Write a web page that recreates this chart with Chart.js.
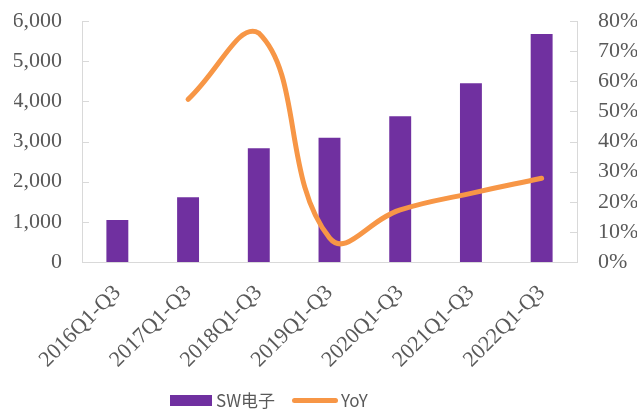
<!DOCTYPE html>
<html>
<head>
<meta charset="utf-8">
<script src="https://cdn.jsdelivr.net/npm/chart.js@4/dist/chart.umd.min.js"></script>
<style>
body { margin: 0; background: #fff; }
#wrap { position: relative; width: 641px; height: 410px; }
#legend { position: absolute; left: 0; top: 390px; width: 641px; height: 20px;
  font-family: "Noto Sans CJK SC", sans-serif; font-size: 17px; color: #595959; }
.item { position: absolute; top: 0; line-height: 20px; }
.swatch { position: absolute; }
</style>
</head>
<body>
<div id="wrap">
  <canvas id="chart" width="641" height="410"></canvas>
  <div id="legend">
    <span class="swatch" style="left:170px;top:5px;width:42px;height:11px;background:#7030A0"></span>
    <span class="item" style="left:216px">SW电子</span>
    <span class="swatch" style="left:292px;top:8px;width:46px;height:5px;border-radius:3px;background:#F79646"></span>
    <span class="item" style="left:341px">YoY</span>
  </div>
</div>
<script>
/* data */
var categories = ['2016Q1-Q3', '2017Q1-Q3', '2018Q1-Q3', '2019Q1-Q3', '2020Q1-Q3', '2021Q1-Q3', '2022Q1-Q3'];
var revenue = [1046, 1611, 2830, 3095, 3627, 4449, 5676];
var yoy = [null, 54.0, 76.0, 8.0, 17.3, 22.8, 27.8];

var AXIS_GRAY = '#D9D9D9';
var TEXT_GRAY = '#595959';

/* excel style tick marks pointing into the plot */
var innerTicks = {
    id: 'innerTicks',
    afterDraw: function (chart) {
        var ctx = chart.ctx;
        ctx.save();
        ctx.strokeStyle = AXIS_GRAY;
        ctx.lineWidth = 1;
        ['y', 'y1'].forEach(function (id) {
            var scale = chart.scales[id];
            var x0 = id == 'y' ? scale.right : scale.left;
            var dir = id == 'y' ? 1 : -1;
            scale.ticks.forEach(function (t) {
                var py = Math.round(scale.getPixelForValue(t.value)) + 0.5;
                ctx.beginPath();
                ctx.moveTo(x0, py);
                ctx.lineTo(x0 + dir * 7, py);
                ctx.stroke();
            });
        });
        ctx.restore();
    }
};

var tickFont = { family: '"Liberation Serif", "Times New Roman", serif', size: 22 };

// fixed box sizes so the plot lands where the reference has it
function fixY(w) {
    return function (s) { s.width = w; s.paddingTop = 21; s.paddingBottom = 0; };
}

new Chart(document.getElementById('chart'), {
    data: {
        labels: categories,
        datasets: [{
            type: 'line',
            label: 'YoY',
            data: yoy,
            yAxisID: 'y1',
            borderColor: '#F79646',
            borderWidth: 5,
            borderCapStyle: 'round',
            tension: 0.45,
            pointRadius: 0,
            fill: false,
            order: 0
        }, {
            type: 'bar',
            label: 'SW电子',
            data: revenue,
            yAxisID: 'y',
            backgroundColor: '#7030A0',
            barPercentage: 0.31,
            categoryPercentage: 1,
            order: 1
        }]
    },
    options: {
        responsive: false,
        animation: false,
        layout: { padding: { top: 0, left: 14, right: 4, bottom: 40 } },
        plugins: { legend: { display: false }, tooltip: { enabled: false } },
        scales: {
            x: {
                grid: { display: false, drawTicks: false },
                border: { color: AXIS_GRAY },
                ticks: { color: TEXT_GRAY, font: tickFont, minRotation: 45, maxRotation: 45, labelOffset: 0, padding: 18 },
                afterFit: function (s) { s.height = 108; s.paddingLeft = 0; s.paddingRight = 0; }
            },
            y: {
                position: 'left',
                min: 0, max: 6000,
                grid: { display: false, drawTicks: false },
                border: { color: AXIS_GRAY },
                ticks: {
                    stepSize: 1000, autoSkip: false, color: TEXT_GRAY, font: tickFont, padding: 20,
                    callback: function (v) { return v.toLocaleString('en-US'); }
                },
                afterFit: fixY(68)
            },
            y1: {
                position: 'right',
                min: 0, max: 80,
                grid: { display: false, drawTicks: false },
                border: { color: AXIS_GRAY },
                ticks: {
                    stepSize: 10, autoSkip: false, color: TEXT_GRAY, font: tickFont, padding: 21,
                    callback: function (v) { return v + '%'; }
                },
                afterFit: fixY(60)
            }
        }
    },
    plugins: [innerTicks]
});
</script>
</body>
</html>
